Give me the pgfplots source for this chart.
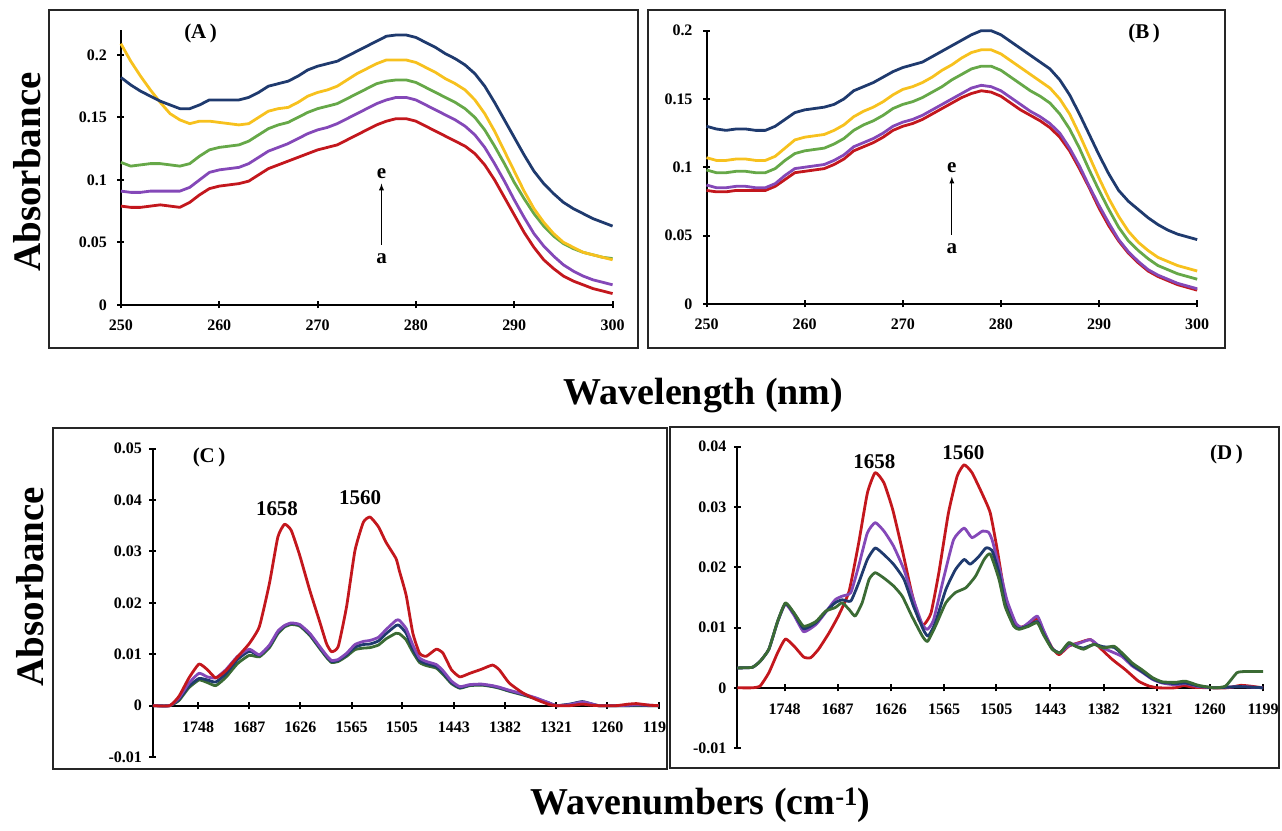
\documentclass[border=0pt]{standalone}
\usepackage{pgfplots}
\pgfplotsset{compat=1.18}
\usepackage{pgfplotstable}
\usepackage{fontspec}
\setmainfont{Liberation Serif}

\definecolor{cRed}{HTML}{C3171D}
\definecolor{cPurple}{HTML}{8448B8}
\definecolor{cGreen}{HTML}{66A848}
\definecolor{cDkGreen}{HTML}{3B6B34}
\definecolor{cYellow}{HTML}{F7C11E}
\definecolor{cNavy}{HTML}{1F3A6E}

% UV-Vis spectra, panel A (curves a..e)
\pgfplotstableread{
nm  red   purple green yellow navy
250 0.079 0.091 0.114 0.209 0.182
251 0.078 0.090 0.111 0.195 0.176
252 0.078 0.090 0.112 0.183 0.171
253 0.079 0.091 0.113 0.172 0.167
254 0.080 0.091 0.113 0.162 0.163
255 0.079 0.091 0.112 0.153 0.160
256 0.078 0.091 0.111 0.148 0.157
257 0.082 0.094 0.113 0.145 0.157
258 0.088 0.100 0.119 0.147 0.160
259 0.093 0.106 0.124 0.147 0.164
260 0.095 0.108 0.126 0.146 0.164
261 0.096 0.109 0.127 0.145 0.164
262 0.097 0.110 0.128 0.144 0.164
263 0.099 0.113 0.131 0.145 0.166
264 0.104 0.118 0.136 0.150 0.170
265 0.109 0.123 0.141 0.155 0.175
266 0.112 0.126 0.144 0.157 0.177
267 0.115 0.129 0.146 0.158 0.179
268 0.118 0.133 0.150 0.162 0.183
269 0.121 0.137 0.154 0.167 0.188
270 0.124 0.140 0.157 0.170 0.191
271 0.126 0.142 0.159 0.172 0.193
272 0.128 0.145 0.161 0.175 0.195
273 0.132 0.149 0.165 0.180 0.199
274 0.136 0.153 0.169 0.185 0.203
275 0.140 0.157 0.173 0.189 0.207
276 0.144 0.161 0.177 0.193 0.211
277 0.147 0.164 0.179 0.196 0.215
278 0.149 0.166 0.180 0.196 0.216
279 0.149 0.166 0.180 0.196 0.216
280 0.147 0.164 0.178 0.194 0.214
281 0.143 0.160 0.174 0.190 0.210
282 0.139 0.156 0.170 0.186 0.206
283 0.135 0.152 0.166 0.181 0.201
284 0.131 0.148 0.162 0.177 0.197
285 0.127 0.143 0.157 0.172 0.192
286 0.121 0.136 0.150 0.164 0.185
287 0.112 0.126 0.140 0.153 0.175
288 0.100 0.113 0.127 0.139 0.162
289 0.086 0.099 0.113 0.123 0.148
290 0.072 0.084 0.098 0.107 0.134
291 0.058 0.070 0.085 0.091 0.120
292 0.046 0.057 0.073 0.077 0.107
293 0.036 0.047 0.063 0.066 0.097
294 0.029 0.039 0.055 0.057 0.089
295 0.023 0.032 0.049 0.050 0.082
296 0.019 0.027 0.045 0.046 0.077
297 0.016 0.023 0.042 0.042 0.073
298 0.013 0.020 0.040 0.040 0.069
299 0.011 0.018 0.038 0.038 0.066
300 0.009 0.016 0.037 0.036 0.063
}\uvA

% UV-Vis spectra, panel B (curves a..e)
\pgfplotstableread{
nm  red   purple green yellow navy
250 0.083 0.087 0.098 0.107 0.130
251 0.082 0.085 0.096 0.105 0.128
252 0.082 0.085 0.096 0.105 0.127
253 0.083 0.086 0.097 0.106 0.128
254 0.083 0.086 0.097 0.106 0.128
255 0.083 0.085 0.096 0.105 0.127
256 0.083 0.085 0.096 0.105 0.127
257 0.086 0.088 0.099 0.108 0.130
258 0.091 0.094 0.105 0.114 0.135
259 0.096 0.099 0.110 0.120 0.140
260 0.097 0.100 0.112 0.122 0.142
261 0.098 0.101 0.113 0.123 0.143
262 0.099 0.102 0.114 0.124 0.144
263 0.102 0.105 0.117 0.127 0.146
264 0.106 0.109 0.121 0.131 0.150
265 0.112 0.115 0.127 0.137 0.156
266 0.115 0.118 0.131 0.141 0.159
267 0.118 0.121 0.134 0.144 0.162
268 0.122 0.125 0.138 0.148 0.166
269 0.127 0.130 0.143 0.153 0.170
270 0.130 0.133 0.146 0.157 0.173
271 0.132 0.135 0.148 0.159 0.175
272 0.135 0.138 0.151 0.162 0.177
273 0.139 0.142 0.155 0.166 0.181
274 0.143 0.146 0.159 0.171 0.185
275 0.147 0.150 0.164 0.175 0.189
276 0.151 0.154 0.168 0.180 0.193
277 0.154 0.158 0.172 0.184 0.197
278 0.156 0.160 0.174 0.186 0.200
279 0.155 0.159 0.174 0.186 0.200
280 0.152 0.156 0.171 0.183 0.197
281 0.147 0.151 0.166 0.178 0.192
282 0.142 0.146 0.161 0.173 0.187
283 0.138 0.141 0.156 0.168 0.182
284 0.134 0.137 0.152 0.163 0.177
285 0.129 0.132 0.147 0.158 0.172
286 0.122 0.125 0.139 0.150 0.164
287 0.112 0.114 0.128 0.139 0.153
288 0.099 0.101 0.114 0.124 0.139
289 0.085 0.086 0.098 0.108 0.124
290 0.070 0.072 0.083 0.092 0.109
291 0.057 0.059 0.069 0.077 0.095
292 0.046 0.047 0.056 0.064 0.083
293 0.037 0.038 0.046 0.053 0.075
294 0.030 0.031 0.039 0.045 0.069
295 0.024 0.025 0.033 0.039 0.063
296 0.020 0.021 0.028 0.034 0.058
297 0.017 0.018 0.025 0.031 0.054
298 0.014 0.015 0.022 0.028 0.051
299 0.012 0.013 0.020 0.026 0.049
300 0.010 0.011 0.018 0.024 0.047
}\uvB

% FTIR difference spectra, panel C
\pgfplotstableread{
wn   red    purple navy   green
1802 0.0000 0.0000 0.0000 0.0000
1782 0.0000 0.0000 0.0000 0.0000
1771 0.0018 0.0015 0.0012 0.0010
1759 0.0054 0.0044 0.0038 0.0035
1747 0.0081 0.0063 0.0053 0.0050
1737 0.0070 0.0056 0.0050 0.0045
1727 0.0054 0.0054 0.0046 0.0039
1715 0.0068 0.0070 0.0062 0.0055
1701 0.0095 0.0096 0.0090 0.0082
1687 0.0121 0.0110 0.0106 0.0098
1675 0.0154 0.0099 0.0098 0.0095
1663 0.0238 0.0118 0.0116 0.0113
1653 0.0328 0.0145 0.0143 0.0140
1645 0.0353 0.0156 0.0155 0.0153
1637 0.0341 0.0161 0.0160 0.0158
1627 0.0293 0.0158 0.0157 0.0155
1615 0.0225 0.0141 0.0139 0.0137
1603 0.0163 0.0115 0.0113 0.0111
1595 0.0121 0.0098 0.0096 0.0094
1589 0.0105 0.0088 0.0086 0.0084
1581 0.0115 0.0090 0.0088 0.0086
1571 0.0193 0.0102 0.0099 0.0096
1561 0.0302 0.0119 0.0114 0.0109
1551 0.0357 0.0125 0.0119 0.0112
1543 0.0367 0.0127 0.0120 0.0113
1533 0.0348 0.0133 0.0126 0.0118
1524 0.0318 0.0148 0.0140 0.0130
1512 0.0286 0.0166 0.0156 0.0141
1508 0.0262 0.0166 0.0156 0.0140
1500 0.0215 0.0150 0.0141 0.0128
1492 0.0141 0.0118 0.0110 0.0104
1484 0.0102 0.0093 0.0088 0.0084
1476 0.0096 0.0086 0.0082 0.0078
1464 0.0110 0.0080 0.0076 0.0073
1456 0.0102 0.0068 0.0064 0.0061
1446 0.0070 0.0048 0.0045 0.0043
1436 0.0056 0.0037 0.0035 0.0034
1424 0.0063 0.0041 0.0040 0.0039
1410 0.0071 0.0042 0.0041 0.0040
1397 0.0079 0.0039 0.0038 0.0037
1389 0.0070 0.0036 0.0035 0.0034
1377 0.0044 0.0030 0.0029 0.0028
1361 0.0025 0.0023 0.0022 0.0021
1345 0.0012 0.0015 0.0014 0.0013
1329 0.0002 0.0005 0.0005 0.0004
1321 0.0000 0.0000 0.0000 0.0000
1305 0.0000 0.0002 0.0003 0.0002
1290 0.0003 0.0007 0.0008 0.0006
1280 0.0001 0.0004 0.0004 0.0003
1270 0.0000 0.0000 0.0000 0.0000
1250 0.0000 0.0000 0.0000 0.0000
1235 0.0003 0.0001 0.0000 0.0000
1225 0.0004 0.0002 0.0001 0.0000
1210 0.0001 0.0001 0.0000 0.0000
1199 0.0000 0.0000 0.0000 0.0000
}\irC

\tikzset{lbl/.style={font=\fontsize{21}{24}\selectfont\bfseries}}

\pgfplotsset{
  panel/.style={
    scale only axis, clip=false,
    scaled x ticks=false, scaled y ticks=false,
    tick style={line width=2pt, black},
    major tick length=7pt, tick align=outside,
    ticklabel style={font=\fontsize{16}{18}\selectfont\bfseries},
    /pgf/number format/assume math mode=true,
    every axis plot/.append style={line width=2.8pt, line join=round},
  },
  plainlines/.style={
    axis line style={-, line width=2pt},
    every outer x axis line/.append style={-},
    every outer y axis line/.append style={-},
    every inner x axis line/.append style={-},
    every inner y axis line/.append style={-},
    x axis line style={-}, y axis line style={-},
  },
  uvpanel/.style={panel,
    axis x line=bottom, axis y line=left, plainlines,
    xmin=250, xmax=300, ymin=0,
    xtick={250,260,...,300},
    xticklabels={250,260,270,280,290,300},
    xticklabel style={yshift=-8pt},
    yticklabel style={xshift=-7pt},
  },
  irpanel/.style={panel,
    axis x line=middle, axis y line=left, plainlines,
    x dir=reverse, xmin=1199, xmax=1802,
    xtick={1748,1687,1626,1565,1505,1443,1382,1321,1260,1199},
    xticklabels={1748,1687,1626,1565,1505,1443,1382,1321,1260,1199},
    xticklabel style={yshift=-9pt},
    yticklabel style={xshift=-4pt},
    every axis plot/.append style={smooth, tension=0.3},
  },
}

\begin{document}
\begin{tikzpicture}[x=1pt,y=1pt]
\path (0,0) rectangle (1282,831);

% frames around the four panels
\draw[line width=2pt, black!85] (49,821) rectangle (638,483);
\draw[line width=2pt, black!85] (648,821) rectangle (1226,483);

% ---------- (A) ----------
\begin{axis}[uvpanel, at={(121pt,526pt)}, anchor=south west,
  width=492pt, height=275pt, ymax=0.22,
  ytick={0,0.05,0.1,0.15,0.2}, yticklabels={0,0.05,0.1,0.15,0.2}]
\addplot[cRed]    table[x=nm, y=red]    {\uvA};
\addplot[cPurple] table[x=nm, y=purple] {\uvA};
\addplot[cGreen]  table[x=nm, y=green]  {\uvA};
\addplot[cYellow] table[x=nm, y=yellow] {\uvA};
\addplot[cNavy]   table[x=nm, y=navy]   {\uvA};
\draw[-latex, line width=1.3pt] (axis cs:276.5,0.048) -- (axis cs:276.5,0.097);
\node[lbl] at (axis cs:276.5,0.105) {e};
\node[lbl] at (axis cs:276.5,0.037) {a};
\node[lbl] at (axis cs:258.1,0.2176) {(A\,)};
\end{axis}

% ---------- (B) ----------
\begin{axis}[uvpanel, at={(707pt,527pt)}, anchor=south west,
  width=491pt, height=273.3pt, ymax=0.2,
  ytick={0,0.05,0.1,0.15,0.2}, yticklabels={0,0.05,0.1,0.15,0.2}]
\addplot[cRed]    table[x=nm, y=red]    {\uvB};
\addplot[cPurple] table[x=nm, y=purple] {\uvB};
\addplot[cGreen]  table[x=nm, y=green]  {\uvB};
\addplot[cYellow] table[x=nm, y=yellow] {\uvB};
\addplot[cNavy]   table[x=nm, y=navy]   {\uvB};
\draw[-latex, line width=1.3pt] (axis cs:275,0.0505) -- (axis cs:275,0.093);
\node[lbl] at (axis cs:275,0.100) {e};
\node[lbl] at (axis cs:275,0.040) {a};
\node[lbl] at (axis cs:294.6,0.198) {(B\,)};
\end{axis}

% ---------- (C) ----------
\begin{axis}[irpanel, at={(153pt,73.4pt)}, anchor=south west,
  width=506pt, height=308.6pt, ymin=-0.01, ymax=0.05,
  ytick={-0.01,0,0.01,0.02,0.03,0.04,0.05},
  yticklabels={-0.01,0,0.01,0.02,0.03,0.04,0.05}]
\addplot[cDkGreen] table[x=wn, y=green]  {\irC};
\addplot[cNavy]    table[x=wn, y=navy]   {\irC};
\addplot[cPurple]  table[x=wn, y=purple] {\irC};
\addplot[cRed]     table[x=wn, y=red]    {\irC};
\node[lbl] at (axis cs:1735,0.0483) {(C\,)};
\node[lbl] at (axis cs:1654,0.0384) {1658};
\node[lbl] at (axis cs:1555,0.0405) {1560};
\end{axis}
\fill[white] (667,40) rectangle (700,405);
\draw[line width=2pt, black!85] (53,403) rectangle (667,61);

% ---------- (D) ----------
\begin{axis}[irpanel, at={(738pt,82.4pt)}, anchor=south west,
  width=526pt, height=301.6pt, ymin=-0.01, ymax=0.04,
  ytick={-0.01,0,0.01,0.02,0.03,0.04},
  yticklabels={-0.01,0,0.01,0.02,0.03,0.04}]
\addplot[cRed] coordinates {(1802,0) (1785,0) (1776,0.0003) (1766,0.0025) (1756,0.0058) (1747,0.0081) (1737,0.0069) (1726,0.0051) (1718,0.0050) (1709,0.0064) (1697,0.0091) (1686,0.0120) (1674,0.0160) (1663,0.0240) (1653,0.0323) (1644,0.0357) (1634,0.0340) (1624,0.0296) (1613,0.0229) (1603,0.0163) (1594,0.0113) (1588,0.0105) (1580,0.0124) (1571,0.0191) (1560,0.0290) (1550,0.0351) (1542,0.0370) (1533,0.0357) (1521,0.0321) (1512,0.0290) (1504,0.0229) (1495,0.0152) (1485,0.0108) (1479,0.0100) (1468,0.0105) (1458,0.0116) (1451,0.0094) (1441,0.0066) (1433,0.0055) (1422,0.0069) (1410,0.0075) (1397,0.0080) (1386,0.0066) (1372,0.0047) (1357,0.0030) (1342,0.0011) (1330,0.0003) (1319,0) (1300,0) (1290,0.0004) (1280,0.0001) (1260,0) (1240,0) (1225,0.0004) (1215,0.0003) (1199,0)};
\addplot[cPurple] coordinates {(1802,0.0033) (1785,0.0034) (1776,0.0044) (1766,0.0064) (1756,0.0109) (1747,0.0139) (1737,0.0120) (1726,0.0093) (1712,0.0105) (1701,0.0125) (1690,0.0146) (1682,0.0152) (1672,0.0158) (1663,0.0202) (1653,0.0257) (1644,0.0274) (1634,0.0260) (1623,0.0235) (1611,0.0196) (1600,0.0146) (1590,0.0105) (1584,0.0097) (1577,0.0113) (1565,0.0185) (1554,0.0246) (1542,0.0265) (1533,0.0249) (1521,0.0260) (1514,0.0258) (1510,0.0246) (1502,0.0202) (1493,0.0146) (1483,0.0108) (1476,0.0100) (1468,0.0108) (1458,0.0119) (1451,0.0096) (1441,0.0065) (1432,0.0058) (1422,0.0070) (1410,0.0074) (1397,0.0080) (1386,0.0068) (1373,0.0060) (1361,0.0052) (1349,0.0036) (1338,0.0026) (1326,0.0014) (1315,0.0008) (1300,0.0005) (1288,0.0007) (1273,0.0002) (1255,0) (1225,0.0002) (1199,0)};
\addplot[cNavy] coordinates {(1802,0.0033) (1785,0.0034) (1776,0.0044) (1766,0.0064) (1756,0.0110) (1747,0.0140) (1737,0.0123) (1726,0.0098) (1712,0.0108) (1701,0.0126) (1690,0.0141) (1682,0.0146) (1672,0.0144) (1663,0.0174) (1653,0.0213) (1644,0.0232) (1634,0.0221) (1623,0.0205) (1611,0.0180) (1600,0.0135) (1588,0.0094) (1583,0.0086) (1575,0.0108) (1563,0.0163) (1552,0.0196) (1542,0.0213) (1535,0.0205) (1525,0.0218) (1517,0.0232) (1510,0.0228) (1502,0.0191) (1495,0.0140) (1485,0.0104) (1479,0.0098) (1468,0.0103) (1458,0.0110) (1451,0.0090) (1441,0.0065) (1432,0.0058) (1422,0.0074) (1414,0.0069) (1405,0.0066) (1393,0.0072) (1382,0.0068) (1370,0.0067) (1361,0.0056) (1349,0.0038) (1338,0.0027) (1326,0.0015) (1315,0.0009) (1300,0.0007) (1288,0.0008) (1273,0.0003) (1255,0) (1240,0.0001) (1225,0.0002) (1199,0)};
\addplot[cDkGreen] coordinates {(1802,0.0033) (1785,0.0034) (1776,0.0044) (1766,0.0064) (1756,0.0110) (1747,0.0141) (1737,0.0124) (1726,0.0102) (1712,0.0110) (1701,0.0127) (1690,0.0133) (1682,0.0141) (1674,0.0130) (1667,0.0119) (1659,0.0141) (1651,0.0180) (1644,0.0191) (1634,0.0182) (1623,0.0169) (1613,0.0152) (1602,0.0119) (1590,0.0086) (1584,0.0077) (1575,0.0102) (1563,0.0141) (1552,0.0158) (1540,0.0166) (1529,0.0185) (1519,0.0213) (1512,0.0222) (1502,0.0180) (1495,0.0135) (1485,0.0102) (1479,0.0097) (1468,0.0102) (1458,0.0108) (1451,0.0088) (1441,0.0064) (1432,0.0058) (1422,0.0075) (1414,0.0069) (1405,0.0064) (1393,0.0072) (1382,0.0066) (1370,0.0069) (1361,0.0058) (1349,0.0041) (1338,0.0030) (1326,0.0017) (1315,0.0010) (1300,0.0009) (1288,0.0011) (1273,0.0004) (1255,0) (1242,0.0003) (1229,0.0025) (1219,0.0027) (1199,0.0027)};
\node[lbl] at (axis cs:1241,0.0387) {(D\,)};
\node[lbl] at (axis cs:1645,0.0375) {1658};
\node[lbl] at (axis cs:1543,0.0390) {1560};
\end{axis}
\draw[line width=2pt, black!85] (670,404) rectangle (1280,62);

% shared axis titles
\node[font=\fontsize{39}{44}\selectfont\bfseries, rotate=90] at (27,659) {Absorbance};
\node[font=\fontsize{39}{44}\selectfont\bfseries, rotate=90] at (30,244) {Absorbance};
\node[font=\fontsize{38}{44}\selectfont\bfseries] at (704,435) {Wavelength (nm)};
\node[font=\fontsize{38}{44}\selectfont\bfseries] at (701,25) {Wavenumbers (cm\textsuperscript{-1})};
\end{tikzpicture}
\end{document}
